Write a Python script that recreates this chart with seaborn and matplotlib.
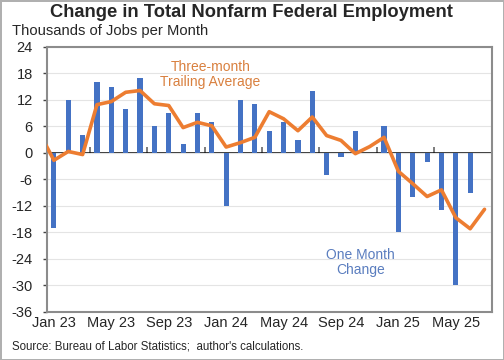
import numpy as np
import pandas as pd

import matplotlib
matplotlib.use("Agg")
import matplotlib.pyplot as plt
import seaborn as sns

# Monthly change in federal payrolls (thousands), Dec 22 .. Jul 25
months = pd.date_range("2022-12-01", "2025-07-01", freq="MS").strftime("%b %y").tolist()

one_month = [np.nan,
             -17, 12, 4, 16, 15, 10, 17, 6, 9, 2, 9, 7,
             -12, 12, 11, 5, 7, 3, 14, -5, -1, 5, 0, 6,
             -18, -10, -2, -13, -30, -9, np.nan]

trailing_avg = [4.5,
                -1.7, 0.3, -0.4, 10.9, 11.6, 13.7, 14.1, 11.1, 10.7, 5.7, 6.9, 6.1,
                1.3, 2.3, 3.5, 9.3, 7.7, 5.0, 8.1, 3.9, 2.8, -0.2, 1.4, 3.5,
                -4.2, -7.0, -9.9, -8.4, -14.7, -17.2, -12.8]

y_ticks = list(range(-36, 25, 6))

df = pd.DataFrame({"month": months, "change": one_month, "avg": trailing_avg})
df["pos"] = np.arange(len(df))

sns.set_theme(style="white")
plt.rcParams["font.family"] = ["Liberation Sans", "DejaVu Sans"]

BLUE = "#4472C4"
ORANGE = "#ED7D31"
FRAME = "#8c8c8c"

fig = plt.figure(figsize=(5.04, 3.6), dpi=100)
fig.patch.set_edgecolor("#b0b0b0")
fig.patch.set_linewidth(2)
ax = fig.add_axes([0.0927, 0.134, 0.8829, 0.736])

# bars for one month change
sns.barplot(data=df, x="pos", y="change", native_scale=True, width=0.36,
            color=BLUE, saturation=1, linewidth=0, ax=ax, zorder=2)
# three-month trailing average
sns.lineplot(data=df, x="pos", y="avg", color=ORANGE, linewidth=2.6,
             ax=ax, zorder=3)

ax.set_xlim(0.5, len(df) - 0.5)
ax.set_ylim(-36, 24)
ax.set_yticks(y_ticks)
ax.set_yticklabels([str(v) for v in y_ticks], fontsize=10.5)
ax.grid(axis="y", color="#e4e4e4", linewidth=0.8, zorder=0)
ax.grid(axis="x", visible=False)

label_pos = df["pos"].iloc[1::4]
ax.set_xticks(label_pos)
ax.set_xticklabels(df["month"].iloc[1::4], fontsize=10.5)
ax.tick_params(axis="x", length=0, pad=3)
ax.tick_params(axis="y", length=3, width=1, color="#444444", direction="out", pad=7,
               left=True)
ax.set_xlabel("")
ax.set_ylabel("")

for sp in ax.spines.values():
    sp.set_color(FRAME)
    sp.set_linewidth(1.5)

# horizontal axis crossing at zero, with tick marks between categories
zero_axis = ax.secondary_xaxis(0, transform=ax.transData)
zero_axis.spines["bottom"].set_color("black")
zero_axis.spines["bottom"].set_linewidth(1.1)
zero_axis.set_xticks(df["pos"].iloc[4::4] - 0.5)
zero_axis.set_xticklabels([])
zero_axis.tick_params(axis="x", direction="in", length=4, width=1.2, color="#666666")

ax.text(11.9, 17.8, "Three-month\nTrailing Average", color="#D9803F", fontsize=10,
        ha="center", va="center", linespacing=1.1, zorder=4)
ax.text(22.35, -24.8, "One Month\nChange", color="#5A7DBF", fontsize=10,
        ha="center", va="center", linespacing=1.1, zorder=4)

fig.text(0.499, 0.966, "Change in Total Nonfarm Federal Employment",
         fontsize=13.2, fontweight="bold", ha="center", va="center")
fig.text(0.024, 0.913, "Thousands of Jobs per Month", fontsize=10.6,
         ha="left", va="center")
fig.text(0.024, 0.037, "Source: Bureau of Labor Statistics;  author's calculations.",
         fontsize=8.3, ha="left", va="center")

fig.savefig("out.png", dpi=100)
